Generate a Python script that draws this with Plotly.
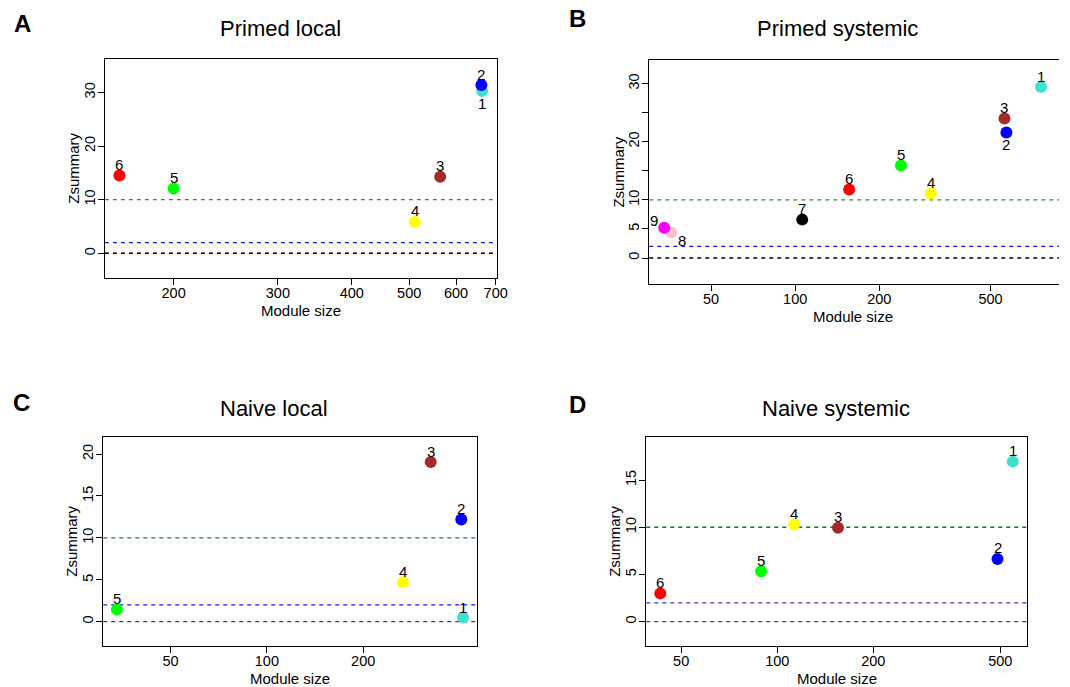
import numpy as np
import plotly.graph_objects as go

# ---- module preservation statistics (module number, size, Zsummary) ----
module_colors = {1: "#40E0D0", 2: "#0000FF", 3: "#A52A2A", 4: "#FFFF00", 5: "#00FF00",
                 6: "#FF0000", 7: "#000000", 8: "#FFC0CB", 9: "#FF00FF"}

primed_local_modules = [1, 2, 3, 4, 5, 6]
primed_local_size = [664, 662, 564, 511, 200, 162]
primed_local_z = [30.3, 31.4, 14.3, 5.85, 12.1, 14.5]

primed_systemic_modules = [1, 2, 3, 4, 5, 6, 7, 8, 9]
primed_systemic_size = [758, 570, 561, 306, 239, 156, 106, 36, 34]
primed_systemic_z = [29.4, 21.6, 24.0, 11.1, 15.9, 11.8, 6.6, 4.4, 5.2]

naive_local_modules = [1, 2, 3, 4, 5]
naive_local_size = [410, 405, 325, 266, 34]
naive_local_z = [0.5, 12.2, 19.05, 4.7, 1.45]

naive_systemic_modules = [1, 2, 3, 4, 5, 6]
naive_systemic_size = [547, 490, 155, 113, 89, 43]
naive_systemic_z = [16.95, 6.65, 9.95, 10.3, 5.35, 3.0]

thresholds = [10, 2, 0]

W, H = 1070, 687
FONT = "Liberation Sans, Arial, Helvetica, sans-serif"


def fx(px):
    return px / W


def fy(px):
    return 1 - px / H


panels = [
    dict(key="", letter="A", title="Primed local",
         modules=primed_local_modules, size=primed_local_size, z=primed_local_z,
         xdom=(106, 502), ydom=(59.3, 277.7), xr=(2.185, 2.847), yr=(-4.56, 36.2),
         xt=[200, 300, 400, 500, 600, 700], yt=[0, 10, 20, 30], ytl=None,
         title_xy=(283.5, 28), letter_xy=(22.5, 23),
         line_colors=["#2f8f2f", "#1515f5", "#000000"], mirror_y=True,
         label_shift={1: (0, -13)}),
    dict(key="2", letter="B", title="Primed systemic",
         modules=primed_systemic_modules, size=primed_systemic_size, z=primed_systemic_z,
         xdom=(656, 1070), ydom=(60.3, 283.7), xr=(1.478, 2.944), yr=(-4.42, 34.0),
         xt=[50, 100, 200, 500], yt=[0, 5, 10, 15, 20, 25, 30],
         ytl=["0", "5", "10", "", "20", "", "30"],
         title_xy=(846, 28.5), letter_xy=(584, 19),
         line_colors=["#2f8f2f", "#1515f5", "#000000"], mirror_y=False,
         label_shift={2: (0, -12), 8: (11, -8), 9: (-10, 7)}),
    dict(key="3", letter="C", title="Naive local",
         modules=naive_local_modules, size=naive_local_size, z=naive_local_z,
         xdom=(104.3, 482), ydom=(436.7, 645.7), xr=(1.4887, 2.6567), yr=(-2.86, 22.07),
         xt=[50, 100, 200], yt=[0, 5, 10, 15, 20], ytl=None,
         title_xy=(277, 408), letter_xy=(22, 402),
         line_colors=["#1f801f", "#1515f5", "#444444"], mirror_y=True,
         label_shift={1: (0, 10)}),
    dict(key="4", letter="D", title="Naive systemic",
         modules=naive_systemic_modules, size=naive_systemic_size, z=naive_systemic_z,
         xdom=(653, 1037.7), ydom=(436.7, 645.7), xr=(1.5896, 2.7827), yr=(-2.54, 19.59),
         xt=[50, 100, 200, 500], yt=[0, 5, 10, 15], ytl=None,
         title_xy=(845, 408), letter_xy=(584, 404),
         line_colors=["#167516", "#3030f0", "#444444"], mirror_y=True,
         label_shift={}),
]

fig = go.Figure()
annotations = []
shapes = []
layout = {}


def paper_text(x, y, text, size, angle=0):
    return dict(x=fx(x), y=fy(y), xref="paper", yref="paper", text=text, showarrow=False,
                xanchor="center", yanchor="middle", textangle=angle,
                font=dict(family=FONT, size=size, color="black"))


for p in panels:
    k = p["key"]
    xa, ya = "x" + k, "y" + k
    fig.add_trace(go.Scatter(
        x=p["size"], y=p["z"], mode="markers", xaxis=xa, yaxis=ya,
        marker=dict(size=12, color=[module_colors[m] for m in p["modules"]], line=dict(width=0)),
        showlegend=False, hoverinfo="x+y",
    ))

    axis_common = dict(showline=True, linecolor="black", linewidth=1, ticks="outside",
                       ticklen=6, tickwidth=1, tickcolor="black", showgrid=False,
                       zeroline=False, tickfont=dict(family=FONT, size=14.5, color="black"))
    layout["xaxis" + k] = dict(
        axis_common, type="log", range=list(p["xr"]),
        domain=[fx(p["xdom"][0]), fx(p["xdom"][1])], ticklabelstandoff=-4,
        anchor=ya, mirror=True, tickvals=p["xt"], ticktext=[str(v) for v in p["xt"]],
    )
    layout["yaxis" + k] = dict(
        axis_common, range=list(p["yr"]),
        domain=[fy(p["ydom"][1]), fy(p["ydom"][0])], ticklabelstandoff=-3,
        anchor=xa, mirror=p["mirror_y"], tickangle=-90, tickvals=p["yt"],
        ticktext=p["ytl"] if p["ytl"] else [str(v) for v in p["yt"]],
    )

    # dashed reference lines at Zsummary thresholds
    for t, c in zip(thresholds, p["line_colors"]):
        shapes.append(dict(type="line", xref=xa + " domain", yref=ya, x0=0, x1=1, y0=t, y1=t,
                           line=dict(color=c, width=1.3, dash="4px,4px"), layer="below"))

    # module number labels
    for m, s, z in zip(p["modules"], p["size"], p["z"]):
        dx, dy = p["label_shift"].get(m, (0, 11))
        annotations.append(dict(x=np.log10(s), y=z, xref=xa, yref=ya, text=str(m),
                                showarrow=False, xshift=dx, yshift=dy,
                                xanchor="center", yanchor="middle",
                                font=dict(family=FONT, size=15, color="black")))

    cx = (p["xdom"][0] + p["xdom"][1]) / 2 if k != "2" else 861.5
    cy = (p["ydom"][0] + p["ydom"][1]) / 2
    annotations.append(paper_text(cx, p["ydom"][1] + 33, "Module size", 15))
    annotations.append(paper_text(p["xdom"][0] - 32, cy, "Zsummary", 15, -90))
    annotations.append(paper_text(p["title_xy"][0], p["title_xy"][1], p["title"], 22))
    annotations.append(paper_text(p["letter_xy"][0], p["letter_xy"][1],
                                  "<b>" + p["letter"] + "</b>", 24))

fig.update_layout(
    width=W, height=H, margin=dict(l=0, r=0, t=0, b=0),
    paper_bgcolor="white", plot_bgcolor="white",
    annotations=annotations, shapes=shapes, **layout,
)

fig.write_html("out.html")
